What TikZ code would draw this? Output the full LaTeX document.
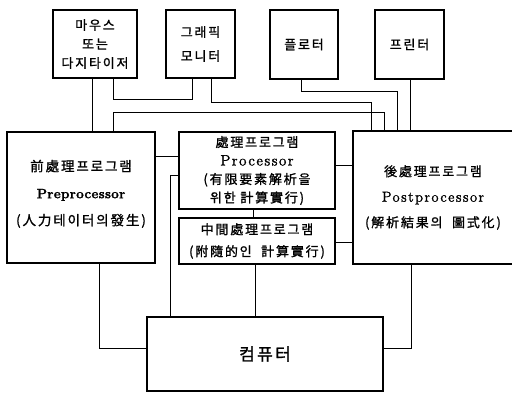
\documentclass[tikz,border=0pt]{standalone}
\usepackage{fontspec}
\newfontfamily\kr{Noto Sans CJK KR}[LetterSpace=14,FakeBold=1.2]
\newfontfamily\latb{lmroman12-bold.otf}[LetterSpace=2,FakeBold=1.5]
\newfontfamily\latr{lmroman12-regular.otf}[LetterSpace=10,FakeBold=1.5]
\begin{document}
\begin{tikzpicture}[x=1pt,y=-1pt,line width=1.1pt,
  box/.style={draw,inner sep=0pt,align=center},
  wire/.style={draw,line width=1pt},
  topfont/.style={font=\kr\fontsize{13}{19}\selectfont}]
\useasboundingbox (0,0) rectangle (512,394);
% top devices
\node[box,topfont,minimum width=84,minimum height=68] (mouse) at (95,44) {마우스\\또는\\다지타이저};
\node[box,font=\kr\fontsize{13}{24}\selectfont,minimum width=69,minimum height=68] (monitor) at (200.5,44) {그래픽\\모니터};
\node[box,topfont,minimum width=68,minimum height=69] (plotter) at (304,44.5) {플로터};
\node[box,topfont,minimum width=69,minimum height=69] (printer) at (409.5,44.5) {프린터};
% programs
\node[box,font=\fontsize{13.5}{27}\selectfont,minimum width=148,minimum height=131,text depth=10pt] (pre) at (81,197.5)
  {{\kr 前處理프로그램}\\{\latb Preprocessor}\\{\kr (人力테이터의發生)}};
\node[box,font=\fontsize{13}{18.5}\selectfont,minimum width=156,minimum height=77] (proc) at (257,170.5)
  {{\kr 處理프로그램}\\{\latr\fontsize{15}{18.5}\selectfont Processor}\\{\kr (有限要素解析을}\\{\kr 위한 計算實行)}};
\node[box,font=\fontsize{13}{22}\selectfont,minimum width=156,minimum height=46] (mid) at (257,241)
  {{\kr 中間處理프로그램}\\{\kr (附隨的인\ \ 計算實行)}};
\node[box,font=\fontsize{13}{25.5}\selectfont,minimum width=160,minimum height=133] (post) at (433,197.5)
  {{\kr 後處理프로그램}\\{\latr\fontsize{14.5}{25.5}\selectfont Postprocessor}\\{\kr (解析結果의\ \ 圖式化)}};
\node[box,font=\kr\fontsize{17}{20}\selectfont,minimum width=236,minimum height=74] (comp) at (265,354) {컴퓨터};
% wires
\path[wire] (92,0 |- mouse.south) -- (92,0 |- pre.north);
\path[wire] (113,0 |- mouse.south) -- (113,99) -- (192,99) -- (192,0 |- monitor.south);
\path[wire] (211,0 |- monitor.south) -- (211,102) -- (371,102) -- (371,0 |- post.north);
\path[wire] (113,0 |- pre.north) -- (113,112) -- (384,112) -- (384,0 |- post.north);
\path[wire] (301,0 |- plotter.south) -- (301,91) -- (397,91) -- (397,0 |- post.north);
\path[wire] (410,0 |- printer.south) -- (410,0 |- post.north);
\path[wire] (pre.east |- 0,156) -- (proc.west |- 0,156);
\path[wire] (proc.west |- 0,175) -- (170,175) -- (170,0 |- comp.north);
\path[wire] (253,0 |- proc.south) -- (253,0 |- mid.north);
\path[wire] (255,0 |- mid.south) -- (255,0 |- comp.north);
\path[wire] (proc.east |- 0,165) -- (post.west |- 0,165);
\path[wire] (mid.east |- 0,242) -- (post.west |- 0,242);
\path[wire] (99,0 |- pre.south) -- (99,348) -- (comp.west |- 0,348);
\path[wire] (411,0 |- post.south) -- (411,348) -- (comp.east |- 0,348);
\end{tikzpicture}
\end{document}
